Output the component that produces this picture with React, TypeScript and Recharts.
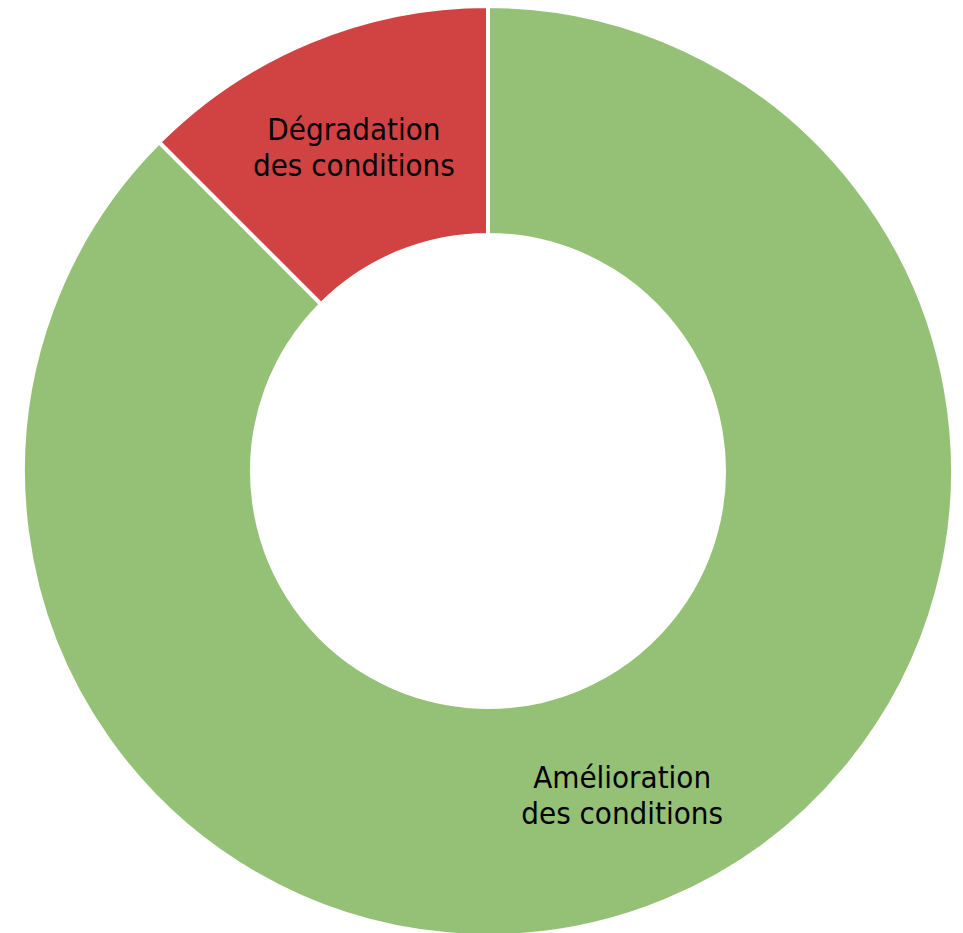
import { PieChart, Pie, Cell } from 'recharts'

const CATEGORIES = ['Amélioration des conditions', 'Dégradation des conditions']
const VALUES = [87.5, 12.5]
const COLORS = ['#95C176', '#D14343']

const data = CATEGORIES.map((name, i) => ({ name, value: VALUES[i] }))

const RADIAN = Math.PI / 180

const renderLabel = ({
  cx,
  cy,
  midAngle,
  innerRadius,
  outerRadius,
  name,
}: {
  cx: number
  cy: number
  midAngle: number
  innerRadius: number
  outerRadius: number
  name: string
}) => {
  const radius = innerRadius + (outerRadius - innerRadius) * 0.5
  const x = cx + radius * Math.cos(-midAngle * RADIAN)
  const y = cy + radius * Math.sin(-midAngle * RADIAN)
  const cut = name.indexOf(' ')
  const first = name.slice(0, cut)
  const rest = name.slice(cut + 1)

  return (
    <text
      x={x}
      y={y}
      fill='#000'
      textAnchor='middle'
      fontFamily='"DejaVu Sans Condensed", "DejaVu Sans"'
      fontSize={31}
    >
      <tspan x={x} y={y - 7}>{first}</tspan>
      <tspan x={x} y={y + 29}>{rest}</tspan>
    </text>
  )
}

const App = () => {
  return (
    <div style={{ position: 'absolute', left: 0, top: 0 }}>
      <PieChart width={963} height={933} margin={{ top: 0, right: 0, bottom: 0, left: 0 }}>
        <Pie
          data={data}
          dataKey='value'
          nameKey='name'
          cx={488}
          cy={471}
          innerRadius={236}
          outerRadius={465}
          startAngle={90}
          endAngle={-270}
          stroke='#fff'
          strokeWidth={4}
          label={renderLabel}
          labelLine={false}
          isAnimationActive={false}
        >
          {data.map((entry, index) => (
            <Cell key={`cell-${index}`} fill={COLORS[index % COLORS.length]} />
          ))}
        </Pie>
      </PieChart>
    </div>
  )
}

export default App
